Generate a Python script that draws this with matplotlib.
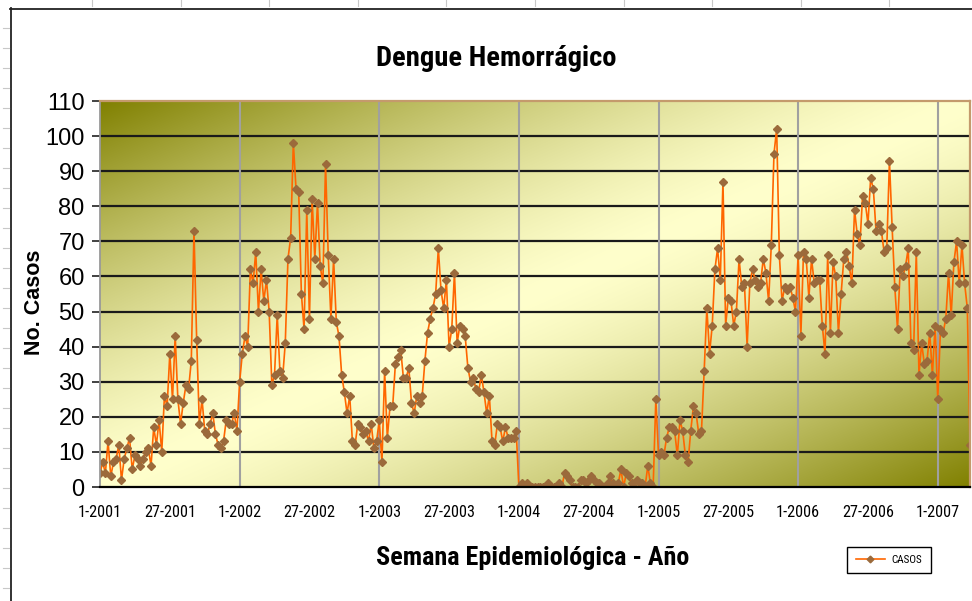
import matplotlib
matplotlib.use('Agg')
import matplotlib.pyplot as plt
import numpy as np
from matplotlib import font_manager as fm
from matplotlib.lines import Line2D

# ---------------- data ----------------
y2001 = [4, 7, 4, 13, 3, 7, 8, 12, 2, 8, 11, 14, 5, 9, 8, 6, 8, 10, 11, 6,
         17, 12, 19, 10, 26, 23, 38, 25, 43, 25, 18, 24, 29, 28, 36, 73, 42, 18, 25, 16,
         15, 18, 21, 15, 12, 11, 13, 19, 18, 18, 21, 16]
y2002 = [30, 38, 43, 40, 62, 58, 67, 50, 62, 53, 59, 50, 29, 32, 49, 33, 31, 41, 65, 71,
         98, 85, 84, 55, 45, 79, 48, 82, 65, 81, 63, 58, 92, 66, 48, 65, 47, 43, 32, 27,
         21, 26, 13, 12, 18, 17, 15, 16, 13, 18, 11, 13]
y2003 = [19, 7, 33, 14, 23, 23, 35, 37, 39, 31, 31, 34, 24, 21, 26, 24, 26, 36, 44, 48,
         51, 55, 68, 56, 51, 59, 40, 45, 61, 41, 46, 45, 43, 34, 30, 31, 28, 27, 32, 27,
         21, 26, 13, 12, 18, 17, 13, 17, 14, 14, 14, 16]
y2004 = [0, 1, 0, 1, 0, 0, 0, 0, 0, 0, 0, 1, 0, 0, 0, 1, 0, 4, 3, 2,
         0, 0, 0, 2, 2, 1, 2, 3, 2, 1, 1, 0, 0, 1, 3, 1, 0, 1, 5, 0,
         4, 3, 1, 0, 2, 1, 1, 0, 6, 1, 0, 25]
y2005 = [9, 10, 9, 14, 17, 17, 16, 9, 19, 16, 9, 7, 16, 23, 21, 15, 16, 33, 51, 38,
         46, 62, 68, 59, 87, 46, 54, 53, 46, 50, 65, 57, 58, 40, 58, 62, 59, 57, 58, 65,
         61, 53, 69, 95, 102, 66, 53, 57, 56, 57, 54, 50]
y2006 = [66, 43, 67, 65, 54, 65, 58, 59, 59, 46, 38, 66, 44, 64, 60, 44, 55, 65, 67, 63,
         58, 79, 72, 69, 83, 81, 75, 88, 85, 73, 75, 73, 67, 68, 93, 74, 57, 45, 62, 60,
         63, 68, 41, 39, 67, 32, 41, 35, 36, 44, 32, 46]
y2007 = [25, 45, 44, 48, 61, 49, 64, 70, 58, 69, 58, 51, 12]

casos = y2001 + y2002 + y2003 + y2004 + y2005 + y2006 + y2007
weeks = np.arange(len(casos))

tick_labels = ['1-2001', '27-2001', '1-2002', '27-2002', '1-2003', '27-2003',
               '1-2004', '27-2004', '1-2005', '27-2005', '1-2006', '27-2006', '1-2007']
y_ticks = list(range(0, 111, 10))

title = 'Dengue Hemorrágico'
xlabel = 'Semana Epidemiológica - Año'
ylabel = 'No. Casos'
series_name = 'CASOS'

# ---------------- fonts ----------------
ttf = fm.fontManager.ttflist
names = {f.name for f in ttf}
ARIAL = 'Liberation Sans' if 'Liberation Sans' in names else 'DejaVu Sans'
NARROW = dict(family=ARIAL)
for cand in ['Liberation Sans Narrow', 'Arial Narrow', 'Noto Sans Condensed',
             'Roboto Condensed', 'Open Sans Condensed', 'Noto Sans SemiCondensed']:
    if cand in names:
        NARROW = dict(family=cand)
        break
else:
    for f in ttf:
        if f.name in ('Noto Sans', 'Liberation Sans', 'Roboto', 'Open Sans') and \
                str(f.stretch) in ('condensed', 'semi-condensed', '75', '87'):
            NARROW = dict(family=f.name, stretch=f.stretch)
            break

W, H = 972, 601
fig = plt.figure(figsize=(W / 100, H / 100), dpi=100)
fig.patch.set_facecolor('white')
renderer = fig.canvas.get_renderer()


def fit_width(txt, target_px, max_size):
    """scale a text's fontsize so its rendered width matches target_px"""
    w = txt.get_window_extent(renderer).width
    size = txt.get_fontsize() * target_px / max(w, 1)
    txt.set_fontsize(min(size, max_size))
    return txt.get_fontsize()


L, R, T, B = 100, 970, 101, 487
ax = fig.add_axes([L / W, 1 - B / H, (R - L) / W, (B - T) / H])

# background gradient (olive - light yellow - olive, diagonal)
gh, gw = 386, 870
u = np.linspace(0, 1, gw)[None, :]
v = np.linspace(0, 1, gh)[:, None]
t = (u + v) / 2.0
f = 1 - np.abs(2 * t - 1) ** 1.4
dark = np.array([128, 128, 0]) / 255.0
light = np.array([255, 255, 204]) / 255.0
img = dark + (light - dark) * f[..., None]
ax.imshow(img, extent=(0, 1, 0, 1), transform=ax.transAxes, aspect='auto',
          zorder=0, interpolation='bilinear')

n = len(casos)

# gridlines
for yv in y_ticks[1:-1]:
    ax.axhline(yv, color='#1a1a1a', lw=1.6, zorder=1)
for xv in range(52, n, 52):
    ax.axvline(xv, color='#a0a0a0', lw=1.5, zorder=1)

ax.plot(weeks, casos, color='#FF6600', lw=1.2, marker='D', ms=3.8,
        mfc='#9B6A3B', mec='#9B6A3B', zorder=3, label=series_name)

ax.set_xlim(0, n - 1)
ax.set_ylim(0, 110)

# tick label size calibration for the narrow font
probe = fig.text(0, 0, '1-2001', fontsize=13, **NARROW)
xt_size = fit_width(probe, 44, 13)
probe.remove()

ax.set_xticks(range(0, n, 26))
ax.set_xticklabels(tick_labels, fontsize=xt_size, **NARROW)
ax.set_xticks(range(0, n, 52), minor=True)
ax.tick_params(axis='x', which='major', length=0, pad=13)
ax.tick_params(axis='x', which='minor', length=6, width=1.2, direction='inout', color='black')
ax.set_yticks(y_ticks)
ax.set_yticklabels([str(y) for y in y_ticks], fontsize=17, family=ARIAL)
ax.tick_params(axis='y', length=6, width=1.2, direction='out', pad=5, color='#222222')

for s in ['top', 'right']:
    ax.spines[s].set_color('#C49A6C')
    ax.spines[s].set_linewidth(1.6)
ax.spines['left'].set_color('#999999')
ax.spines['left'].set_linewidth(1.3)
ax.spines['bottom'].set_color('black')
ax.spines['bottom'].set_linewidth(1.6)
for s in ax.spines.values():
    s.set_zorder(4)

# titles
tt = fig.text(496 / W, 1 - 58 / H, title, ha='center', va='center', fontsize=20,
              fontweight='bold', **NARROW)
fit_width(tt, 240, 20.5)
xl = fig.text(533 / W, 1 - 558 / H, xlabel, ha='center', va='center', fontsize=19,
              fontweight='bold', **NARROW)
fit_width(xl, 314, 19)
fig.text(35 / W, 1 - 302 / H, ylabel, ha='center', va='center', rotation=90,
         fontsize=15.5, fontweight='bold', family=ARIAL)

# legend
probe = fig.text(0, 0, series_name, fontsize=8, **NARROW)
lg_size = fit_width(probe, 31, 8.5)
probe.remove()
leg = ax.legend(loc='center', bbox_to_anchor=(889 / W, 1 - 560 / H),
                bbox_transform=fig.transFigure, frameon=True, fancybox=False,
                edgecolor='black', framealpha=1, handlelength=2.6,
                prop=dict(size=lg_size, **NARROW), borderpad=0.75,
                handletextpad=0.6, markerscale=0.9)
leg.get_frame().set_linewidth(1.0)

# chart frame (spreadsheet border)
fig.add_artist(Line2D([10.5 / W, 10.5 / W], [0, 1 - 8 / H], transform=fig.transFigure,
                      color='#222222', lw=1.3))
fig.add_artist(Line2D([10 / W, 1], [1 - 8.5 / H, 1 - 8.5 / H], transform=fig.transFigure,
                      color='#222222', lw=1.3))
for yy in np.arange(28, H, 20):
    fig.add_artist(Line2D([3 / W, 9 / W], [1 - yy / H, 1 - yy / H], transform=fig.transFigure,
                          color='#c8c8c8', lw=0.8))
for xx in np.arange(92, W, 88.6):
    fig.add_artist(Line2D([xx / W, xx / W], [1, 1 - 6 / H], transform=fig.transFigure,
                          color='#c8c8c8', lw=0.8))

fig.savefig('out.png', dpi=100)
